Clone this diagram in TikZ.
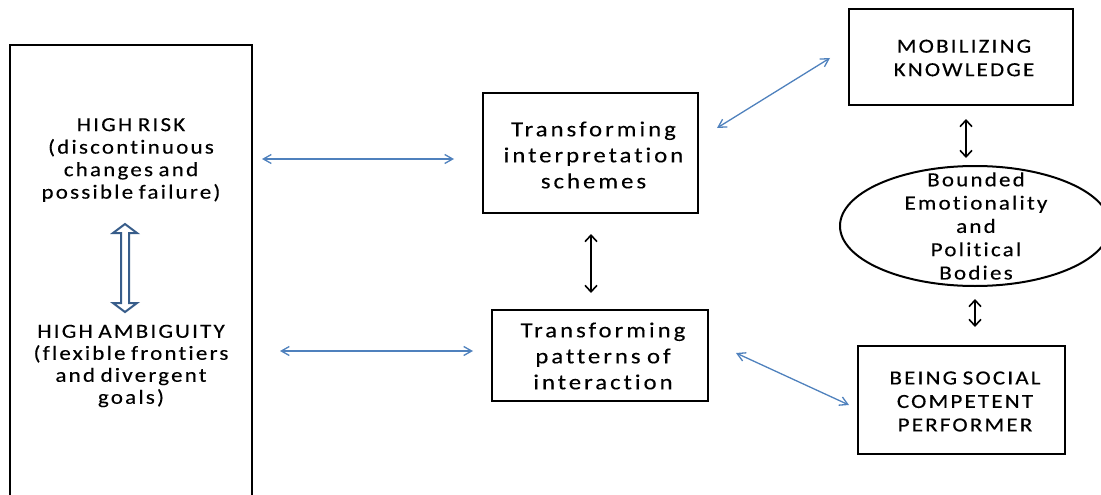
\documentclass[tikz,border=0pt]{standalone}
\usepackage{fontspec}
\setmainfont{Carlito}
\newfontfamily\spacedfont{Carlito}[LetterSpace=11,WordSpace=0.75,FakeStretch=1.15,FakeBold=0.3,Ligatures=NoCommon]
\newfontfamily\bigspacedfont{Carlito}[LetterSpace=14,WordSpace=0.75,FakeStretch=1.15,FakeBold=0.3,Ligatures=NoCommon]
\usetikzlibrary{shapes.geometric,arrows.meta}
\definecolor{arrblue}{RGB}{79,129,189}
\definecolor{dblue}{RGB}{56,93,138}
\tikzset{
  box/.style={draw=black, line width=2pt, rectangle, inner sep=0pt},
  smalltxt/.style={align=center, inner sep=0pt, font=\spacedfont\fontsize{20}{22.5}\selectfont},
  bigtxt/.style={align=center, inner sep=0pt, font=\bigspacedfont\fontsize{21.5}{26}\selectfont},
  barrow/.style={draw=arrblue, line width=1.3pt, {Straight Barb[length=8pt,width=9pt]}-{Straight Barb[length=8pt,width=9pt]}},
  karrow/.style={draw=black, line width=1.6pt, {Straight Barb[length=6.5pt,width=12pt]}-{Straight Barb[length=6.5pt,width=12pt]}},
}
\begin{document}
\begin{tikzpicture}[x=1pt,y=-1pt]
\useasboundingbox (0,0) rectangle (1101,495);
\clip (0,0) rectangle (1101,495);
% left tall box
\node[box, minimum width=242pt, minimum height=470pt] (left) at (131,280) {};
\node[smalltxt] (risk) at (131,160) {HIGH RISK\\(discontinuous\\changes and\\possible failure)};
\node[smalltxt, font=\spacedfont\fontsize{20}{22}\selectfont] (amb) at (131,366) {HIGH AMBIGUITY\\(flexible frontiers\\and divergent\\goals)};
% hollow double arrow between the two texts
\draw[draw=dblue, fill=white, line width=2pt, line join=miter]
  (125,224) -- (137,233) -- (129,233) -- (129,303) -- (137,303) -- (125,312)
  -- (113,303) -- (121,303) -- (121,233) -- (113,233) -- cycle;
% middle boxes
\node[box, minimum width=215pt, minimum height=120pt] (tis) at (590.5,153) {};
\node[bigtxt] at (593.5,155) {Transforming\\interpretation\\schemes};
\node[box, minimum width=216pt, minimum height=91pt] (tpi) at (600,355.5) {};
\node[bigtxt] at (603,356) {Transforming\\patterns of\\interaction};
% right boxes
\node[box, minimum width=224pt, minimum height=96pt] (mob) at (961,57) {};
\node[smalltxt, font=\spacedfont\fontsize{20}{23.5}\selectfont] at (964,58) {MOBILIZING\\KNOWLEDGE};
\node[draw=black, line width=2pt, ellipse, minimum width=270pt, minimum height=120pt, inner sep=0pt] (ell) at (975,226) {};
\node[smalltxt, font=\spacedfont\fontsize{20}{23.3}\selectfont] at (976,226) {Bounded\\Emotionality\\and\\Political\\Bodies};
\node[box, minimum width=207pt, minimum height=108pt] (being) at (961.5,400) {};
\node[smalltxt, font=\spacedfont\fontsize{20}{23.5}\selectfont] at (965,401.5) {BEING SOCIAL\\COMPETENT\\PERFORMER};
% blue arrows
\draw[barrow] ([xshift=9pt,yshift=121pt]left.east) -- ([xshift=-28pt,yshift=-6pt]tis.west);
\draw[barrow] ([xshift=27pt,yshift=-71pt]left.east) -- ([xshift=-18pt,yshift=4.5pt]tpi.west);
\draw[barrow] ([xshift=18pt,yshift=25pt]tis.east) -- ([xshift=-18pt,yshift=-1pt]mob.west);
\draw[barrow] ([xshift=27pt,yshift=2.5pt]tpi.east) -- ([xshift=-8pt,yshift=-5pt]being.west);
% black arrows
\draw[karrow] ([xshift=0.5pt,yshift=-20pt]tis.south) -- ([xshift=0.5pt,yshift=-79pt]tis.south);
\draw[karrow] ([xshift=5pt,yshift=-13pt]mob.south) -- ([xshift=-9pt,yshift=7pt]ell.north);
\draw[karrow] ([xshift=0pt,yshift=-12pt]ell.south) -- ([xshift=13.5pt,yshift=18pt]being.north);
\end{tikzpicture}
\end{document}
